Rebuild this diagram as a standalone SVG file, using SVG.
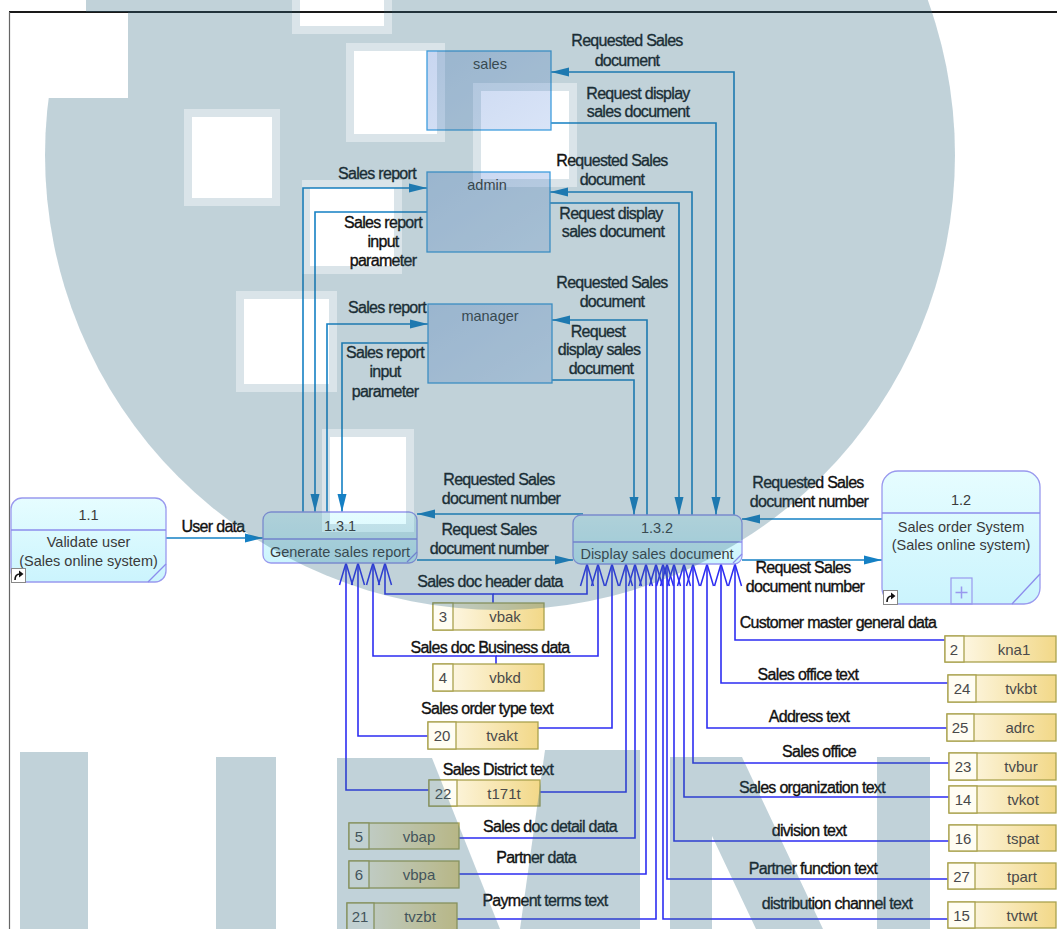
<svg xmlns="http://www.w3.org/2000/svg" width="1057" height="929" viewBox="0 0 1057 929">
<defs>
<style>
.lb{font-family:"Liberation Sans",Arial,sans-serif;font-size:16px;letter-spacing:-0.7px;fill:#111;stroke:#111;stroke-width:0.35px;text-anchor:middle}
.nt{font-family:"Liberation Sans",Arial,sans-serif;font-size:14.5px;fill:#3a3a3a;text-anchor:middle}
.st{font-family:"Liberation Sans",Arial,sans-serif;font-size:15px;fill:#4a4a4a;text-anchor:middle}
.c1{fill:none;stroke:#1580c4;stroke-width:1.6;marker-end:url(#af)}
.c2{fill:none;stroke:#2d2df2;stroke-width:1.6;marker-end:url(#ao)}
.ext{fill:url(#extG);stroke:#3f9ddd;stroke-width:1.3}
.proc{fill:url(#procG);stroke:#9999ee;stroke-width:1.3}
.pl{stroke:#8c8cec;stroke-width:1.3;fill:none}
.sb{fill:url(#stG);stroke:#aaa24e;stroke-width:1.3}
.sn{fill:#fffdf3;stroke:#aaa24e;stroke-width:1.3}
.ico{fill:#fff;stroke:#888;stroke-width:1}
</style>
<linearGradient id="extG" x1="0" y1="0" x2="1" y2="1"><stop offset="0" stop-color="#c8d6f0"/><stop offset="1" stop-color="#d9e4f7"/></linearGradient>
<linearGradient id="procG" x1="0" y1="0" x2="0" y2="1"><stop offset="0" stop-color="#e6fdff"/><stop offset="1" stop-color="#cbf4fd"/></linearGradient>
<linearGradient id="stG" x1="0" y1="0" x2="1" y2="0"><stop offset="0" stop-color="#fffcf2"/><stop offset="1" stop-color="#f2d888"/></linearGradient>
<marker id="af" markerUnits="userSpaceOnUse" viewBox="0 0 18 10" refX="18" refY="5" markerWidth="18" markerHeight="10" orient="auto"><path d="M0,0.5 L18,5 L0,9.5 z" fill="#1580c4"/></marker>
<marker id="ao" markerUnits="userSpaceOnUse" viewBox="-2 -2 26 17" refX="22" refY="6.5" markerWidth="26" markerHeight="17" orient="auto" style="overflow:visible"><path d="M0,0 L22,6.5 L0,13" fill="none" stroke="#2d2df2" stroke-width="1.5"/></marker>
<mask id="wmMask" maskUnits="userSpaceOnUse" x="0" y="0" width="1057" height="929">
<circle cx="500" cy="155" r="455" fill="#fff"/>
<rect x="20" y="752" width="68" height="177" fill="#fff"/>
<rect x="216" y="757" width="60" height="172" fill="#fff"/>
<polygon points="337,758 432,758 500,929 337,929" fill="#fff"/>
<polygon points="545,750 640,750 640,929 520,929" fill="#fff"/>
<polygon points="670,757 742,757 823,929 756,929 712,836 712,929 670,929" fill="#fff"/>
<rect x="877" y="757" width="53" height="172" fill="#fff"/>
<rect x="0" y="12" width="128" height="86" fill="#000"/>
<rect x="0" y="0" width="86" height="12" fill="#000"/>
<g fill="#999">
<rect x="184" y="109" width="96" height="97"/>
<rect x="346" y="43" width="99" height="99"/>
<rect x="292" y="0" width="100" height="34"/>
<rect x="473" y="83" width="104" height="104"/>
<rect x="302" y="180" width="100" height="94"/>
<rect x="236" y="291" width="101" height="101"/>
<rect x="322" y="429" width="92" height="103"/>
</g>
<g fill="#000">
<rect x="192" y="117" width="80" height="81"/>
<rect x="354" y="51" width="83" height="83"/>
<rect x="300" y="0" width="84" height="26"/>
<rect x="481" y="91" width="88" height="88"/>
<rect x="310" y="188" width="84" height="78"/>
<rect x="244" y="299" width="85" height="85"/>
<rect x="330" y="437" width="76" height="87"/>
</g>
</mask>
</defs>
<rect x="0" y="0" width="1057" height="929" fill="#fff"/>
<g id="frame">
<line x1="9" y1="12" x2="1057" y2="12" stroke="#1a1a1a" stroke-width="1.8"/>
<line x1="9.5" y1="12" x2="9.5" y2="929" stroke="#666" stroke-width="1.2"/>
</g>
<g id="connectors">
<path class="c1" d="M734,515 V72 H551"/>
<path class="c1" d="M551,123 H716 V515"/>
<path class="c1" d="M692,515 V192 H550"/>
<path class="c1" d="M550,203 H679 V515"/>
<path class="c1" d="M647,515 V320 H552"/>
<path class="c1" d="M552,380 H634 V515"/>
<path class="c1" d="M303,512 V188 H427"/>
<path class="c1" d="M427,212 H315 V512"/>
<path class="c1" d="M327,512 V324 H428"/>
<path class="c1" d="M428,343 H342 V512"/>
<path class="c1" d="M166,538 H263"/>
<path class="c1" d="M583,514 H417"/>
<path class="c1" d="M417,560 H573"/>
<path class="c1" d="M882,519 H742"/>
<path class="c1" d="M742,560 H882"/>
<path class="c2" d="M493,603 V594 H385 V563"/>
<path class="c2" d="M493,594 H587 V564"/>
<path class="c2" d="M496,664 V656 H373 V563"/>
<path class="c2" d="M496,656 H598 V564"/>
<path class="c2" d="M428,736 H358 V563"/>
<path class="c2" d="M538,728 H612 V564"/>
<path class="c2" d="M429,790 H346 V563"/>
<path class="c2" d="M540,792 H626 V564"/>
<path class="c2" d="M459,838 H635 V564"/>
<path class="c2" d="M459,874 H646 V564"/>
<path class="c2" d="M457,919 H656 V564"/>
<path class="c2" d="M945,640 H735 V564"/>
<path class="c2" d="M948,683 H721 V564"/>
<path class="c2" d="M947,728 H707 V564"/>
<path class="c2" d="M949,763 H693 V564"/>
<path class="c2" d="M949,797 H684 V564"/>
<path class="c2" d="M949,841 H674 V564"/>
<path class="c2" d="M948,879 H667 V564"/>
<path class="c2" d="M948,919 H663 V564"/>
</g>
<g id="connector-labels">
<text class="lb" x="627" y="46">Requested Sales</text>
<text class="lb" x="627" y="66">document</text>
<text class="lb" x="638" y="99">Request display</text>
<text class="lb" x="638" y="117">sales document</text>
<text class="lb" x="377" y="179">Sales report</text>
<text class="lb" x="612" y="166">Requested Sales</text>
<text class="lb" x="612" y="185">document</text>
<text class="lb" x="611" y="219">Request display</text>
<text class="lb" x="613" y="237">sales document</text>
<text class="lb" x="383" y="228">Sales report</text>
<text class="lb" x="383" y="247">input</text>
<text class="lb" x="383" y="266">parameter</text>
<text class="lb" x="387" y="313">Sales report</text>
<text class="lb" x="612" y="288">Requested Sales</text>
<text class="lb" x="612" y="307">document</text>
<text class="lb" x="598" y="337">Request</text>
<text class="lb" x="599" y="355">display sales</text>
<text class="lb" x="601" y="374">document</text>
<text class="lb" x="385" y="358">Sales report</text>
<text class="lb" x="385" y="377">input</text>
<text class="lb" x="385" y="397">parameter</text>
<text class="lb" x="213" y="532">User data</text>
<text class="lb" x="499" y="485">Requested Sales</text>
<text class="lb" x="501" y="504">document number</text>
<text class="lb" x="489" y="535">Request Sales</text>
<text class="lb" x="489" y="554">document number</text>
<text class="lb" x="808" y="488">Requested Sales</text>
<text class="lb" x="809" y="507">document number</text>
<text class="lb" x="803" y="573">Request Sales</text>
<text class="lb" x="805" y="592">document number</text>
<text class="lb" x="490" y="587">Sales doc header data</text>
<text class="lb" x="490" y="653">Sales doc Business data</text>
<text class="lb" x="487" y="714">Sales order type text</text>
<text class="lb" x="498" y="775">Sales District text</text>
<text class="lb" x="550" y="832">Sales doc detail data</text>
<text class="lb" x="536" y="863">Partner data</text>
<text class="lb" x="545" y="906">Payment terms text</text>
<text class="lb" x="838" y="628">Customer master general data</text>
<text class="lb" x="808" y="680">Sales office text</text>
<text class="lb" x="809" y="722">Address text</text>
<text class="lb" x="819" y="757">Sales office</text>
<text class="lb" x="812" y="793">Sales organization text</text>
<text class="lb" x="809" y="836">division text</text>
<text class="lb" x="813" y="874">Partner function text</text>
<text class="lb" x="837" y="909">distribution channel text</text>
</g>
<g id="node-sales">
<rect class="ext" x="427" y="51" width="124" height="79"/>
<text class="nt" x="490" y="69">sales</text>
</g>
<g id="node-admin">
<rect class="ext" x="427" y="172" width="123" height="80"/>
<text class="nt" x="487" y="190">admin</text>
</g>
<g id="node-manager">
<rect class="ext" x="428" y="304" width="124" height="79"/>
<text class="nt" x="490" y="321">manager</text>
</g>
<g id="node-1-1">
<rect class="proc" x="11" y="498" width="155" height="84" rx="11"/>
<line class="pl" x1="11" y1="530" x2="166" y2="530"/>
<line class="pl" x1="148" y1="582" x2="166" y2="564"/>
<text class="nt" x="88.5" y="520">1.1</text>
<text class="nt" x="88.5" y="547">Validate user</text>
<text class="nt" x="88.5" y="566">(Sales online system)</text>
<rect class="ico" x="11.5" y="568.5" width="14" height="14"/>
<path d="M15,580 Q15,574 20,574" fill="none" stroke="#111" stroke-width="1.6"/>
<path d="M19,570.5 L23.5,574 L19,577.5 z" fill="#111"/>
</g>
<g id="node-1-3-1">
<rect class="proc" x="263" y="512" width="154" height="51" rx="8"/>
<line class="pl" x1="263" y1="539" x2="417" y2="539"/>
<line class="pl" x1="407" y1="562" x2="417" y2="552"/>
<text class="nt" x="340" y="531">1.3.1</text>
<text class="nt" x="340" y="557">Generate sales report</text>
</g>
<g id="node-1-3-2">
<rect class="proc" x="573" y="515" width="169" height="49" rx="8"/>
<line class="pl" x1="573" y1="542" x2="742" y2="542"/>
<line class="pl" x1="733" y1="563" x2="742" y2="554"/>
<text class="nt" x="657" y="533">1.3.2</text>
<text class="nt" x="657" y="559">Display sales document</text>
</g>
<g id="node-1-2">
<rect class="proc" x="882" y="471" width="158" height="133" rx="16"/>
<line class="pl" x1="882" y1="513" x2="1040" y2="513"/>
<line class="pl" x1="1012" y1="604" x2="1040" y2="574"/>
<rect x="951" y="578" width="21" height="26" fill="none" stroke="#9999ee" stroke-width="1.2"/>
<path d="M955.5,592.5 H967.5 M961.5,586.5 V598.5" stroke="#9999ee" stroke-width="1.5"/>
<text class="nt" x="961" y="505">1.2</text>
<text class="nt" x="961" y="532">Sales order System</text>
<text class="nt" x="961" y="550">(Sales online system)</text>
<rect class="ico" x="883.5" y="590.5" width="14" height="14"/>
<path d="M887,602 Q887,596 892,596" fill="none" stroke="#111" stroke-width="1.6"/>
<path d="M891,592.5 L895.5,596 L891,599.5 z" fill="#111"/>
</g>
<g id="store-vbak"><rect class="sb" x="433" y="603" width="111" height="27"/><rect class="sn" x="433" y="603" width="20" height="27"/><text class="st" x="443" y="622">3</text><text class="st" x="505" y="622">vbak</text></g>
<g id="store-vbkd"><rect class="sb" x="433" y="664" width="111" height="27"/><rect class="sn" x="433" y="664" width="20" height="27"/><text class="st" x="443" y="683">4</text><text class="st" x="505" y="683">vbkd</text></g>
<g id="store-tvakt"><rect class="sb" x="428" y="722" width="110" height="27"/><rect class="sn" x="428" y="722" width="28" height="27"/><text class="st" x="442" y="741">20</text><text class="st" x="502" y="741">tvakt</text></g>
<g id="store-t171t"><rect class="sb" x="429" y="780" width="111" height="26"/><rect class="sn" x="429" y="780" width="28" height="26"/><text class="st" x="443" y="798.5">22</text><text class="st" x="504" y="798.5">t171t</text></g>
<g id="store-vbap"><rect class="sb" x="349" y="823" width="110" height="26"/><rect class="sn" x="349" y="823" width="20" height="26"/><text class="st" x="359" y="841.5">5</text><text class="st" x="419" y="841.5">vbap</text></g>
<g id="store-vbpa"><rect class="sb" x="349" y="861" width="110" height="27"/><rect class="sn" x="349" y="861" width="20" height="27"/><text class="st" x="359" y="880">6</text><text class="st" x="419" y="880">vbpa</text></g>
<g id="store-tvzbt"><rect class="sb" x="347" y="903" width="110" height="28"/><rect class="sn" x="347" y="903" width="27" height="28"/><text class="st" x="360" y="922">21</text><text class="st" x="420" y="922">tvzbt</text></g>
<g id="store-kna1"><rect class="sb" x="945" y="636" width="111" height="26"/><rect class="sn" x="945" y="636" width="19" height="26"/><text class="st" x="954" y="654.5">2</text><text class="st" x="1014" y="654.5">kna1</text></g>
<g id="store-tvkbt"><rect class="sb" x="948" y="675" width="108" height="27"/><rect class="sn" x="948" y="675" width="28" height="27"/><text class="st" x="962" y="694">24</text><text class="st" x="1021" y="694">tvkbt</text></g>
<g id="store-adrc"><rect class="sb" x="947" y="714" width="109" height="27"/><rect class="sn" x="947" y="714" width="27" height="27"/><text class="st" x="960" y="733">25</text><text class="st" x="1020" y="733">adrc</text></g>
<g id="store-tvbur"><rect class="sb" x="949" y="753" width="107" height="27"/><rect class="sn" x="949" y="753" width="28" height="27"/><text class="st" x="963" y="772">23</text><text class="st" x="1021" y="772">tvbur</text></g>
<g id="store-tvkot"><rect class="sb" x="949" y="786" width="107" height="27"/><rect class="sn" x="949" y="786" width="28" height="27"/><text class="st" x="963" y="805">14</text><text class="st" x="1023" y="805">tvkot</text></g>
<g id="store-tspat"><rect class="sb" x="949" y="825" width="107" height="26"/><rect class="sn" x="949" y="825" width="28" height="26"/><text class="st" x="963" y="843.5">16</text><text class="st" x="1023" y="843.5">tspat</text></g>
<g id="store-tpart"><rect class="sb" x="948" y="863" width="108" height="26"/><rect class="sn" x="948" y="863" width="27" height="26"/><text class="st" x="961.5" y="881.5">27</text><text class="st" x="1022" y="881.5">tpart</text></g>
<g id="store-tvtwt"><rect class="sb" x="948" y="902" width="108" height="26"/><rect class="sn" x="948" y="902" width="27" height="26"/><text class="st" x="961.5" y="920.5">15</text><text class="st" x="1022" y="920.5">tvtwt</text></g>
<g id="watermark">
<rect x="0" y="0" width="1057" height="929" fill="#346c84" opacity="0.3" mask="url(#wmMask)"/>
</g>
</svg>
